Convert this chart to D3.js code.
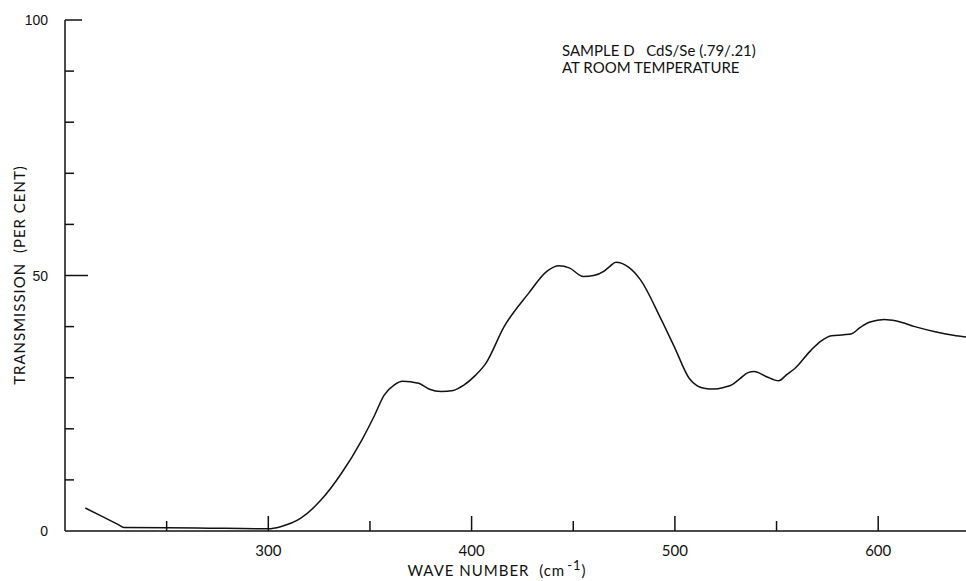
<!DOCTYPE html>
<html>
<head>
<meta charset="utf-8">
<script src="https://cdn.jsdelivr.net/npm/d3@7"></script>
<style>
  body { margin: 0; background: #fff; }
  svg text { font-family: Lato, "DejaVu Sans", sans-serif; fill: #111; white-space: pre; }
</style>
</head>
<body>
<div class="box"></div>
<script>
// transmission spectrum, values
const waveNumber = [210, 226, 229, 265, 300, 306, 316, 326, 336, 346, 352, 357, 362, 366, 370, 374, 379, 385, 391, 396, 402,
    407, 416, 428, 437, 443, 448, 455, 460, 465, 468, 471, 477, 483, 493, 500, 507, 511, 515, 519, 524,
    528, 532, 536, 539, 545, 551, 555, 559, 567, 572, 577, 583, 587, 591, 596, 603, 609, 618, 628, 637, 644];
const transmission = [4.5, 1.3, 0.7, 0.6, 0.45, 0.85, 2.5, 6.1, 11.3, 17.8, 22.4, 26.6, 28.6, 29.3, 29.2, 28.9, 27.8, 27.3, 27.5, 28.5, 30.5,
    32.8, 40.0, 46.5, 50.8, 51.9, 51.5, 49.8, 50.0, 50.8, 51.8, 52.6, 51.7, 49.2, 41.6, 35.8, 29.9, 28.4, 27.9, 27.8, 28.1,
    28.6, 29.8, 31.0, 31.2, 30.2, 29.4, 30.6, 31.8, 35.4, 37.2, 38.2, 38.4, 38.6, 39.8, 40.9, 41.4, 41.1, 40.0, 39.0, 38.3, 37.9];

const xTicks = [250, 300, 350, 400, 450, 500, 550, 600];
const xLabels = [300, 400, 500, 600];
const yTicks = [10, 20, 30, 40, 50, 60, 70, 80, 90, 100];
const yLabels = [0, 50, 100];

const dims = {width: 966, height: 581};
const svg = d3.select('.box')
    .append('svg')
    .attr('width', dims.width)
    .attr('height', dims.height);

const x = d3.scaleLinear().domain([200, 650]).range([65, 65 + 450 * 2.033]);
const y = d3.scaleLinear().domain([0, 100]).range([531, 20]);

const axes = svg.append('g')
    .attr('stroke', '#111')
    .attr('stroke-width', 1.5)
    .attr('fill', 'none');

// axis lines
axes.append('line')
    .attr('x1', x(200)).attr('x2', x(200))
    .attr('y1', y(0)).attr('y2', y(100));
axes.append('line')
    .attr('x1', x(200)).attr('x2', dims.width)
    .attr('y1', y(0)).attr('y2', y(0));

// y ticks point inward, 50 and 100 longer
axes.selectAll('.ytick')
    .data(yTicks)
    .enter()
    .append('line')
    .attr('x1', x(200))
    .attr('x2', d => x(200) + (d == 100 ? 17 : d == 50 ? 23 : 9))
    .attr('y1', d => y(d))
    .attr('y2', d => y(d));

axes.selectAll('.xtick')
    .data(xTicks)
    .enter()
    .append('line')
    .attr('x1', d => x(d))
    .attr('x2', d => x(d))
    .attr('y1', y(0))
    .attr('y2', d => y(0) - (d % 100 == 0 ? 15 : 10));

svg.selectAll('.ylab')
    .data(yLabels)
    .enter()
    .append('text')
    .attr('x', 48)
    .attr('y', d => y(d) + 5)
    .attr('text-anchor', 'end')
    .style('font-family', '"Liberation Sans", Arial, sans-serif')
    .style('font-size', '14px')
    .text(d => d);

svg.selectAll('.xlab')
    .data(xLabels)
    .enter()
    .append('text')
    .attr('x', d => x(d))
    .attr('y', 556)
    .attr('text-anchor', 'middle')
    .style('font-size', '15px')
    .text(d => d);

// axis titles
const xt = svg.append('text')
    .attr('x', 497)
    .attr('y', 576)
    .attr('text-anchor', 'middle')
    .style('font-size', '15px')
    .style('letter-spacing', '1px');
xt.append('tspan').text('WAVE NUMBER  (cm');
xt.append('tspan').attr('dx', 2).attr('dy', -6).style('font-size', '13px').text('-1');
xt.append('tspan').attr('dy', 6).text(')');

svg.append('text')
    .attr('transform', 'translate(25,275) rotate(-90)')
    .attr('text-anchor', 'middle')
    .style('font-size', '15px')
    .style('letter-spacing', '1px')
    .text('TRANSMISSION  (PER CENT)');

// annotation
const note = svg.append('text')
    .attr('x', 562)
    .attr('y', 56)
    .style('font-size', '15px');
note.append('tspan').attr('x', 562).text('SAMPLE D   CdS/Se (.79/.21)');
note.append('tspan').attr('x', 562).attr('dy', 17).text('AT ROOM TEMPERATURE');

// spectrum
const line = d3.line()
    .x(d => x(d[0]))
    .y(d => y(d[1]))
    .curve(d3.curveMonotoneX);

svg.append('path')
    .datum(d3.zip(waveNumber, transmission))
    .attr('d', line)
    .attr('fill', 'none')
    .attr('stroke', '#111')
    .attr('stroke-width', 1.5);
</script>
</body>
</html>
